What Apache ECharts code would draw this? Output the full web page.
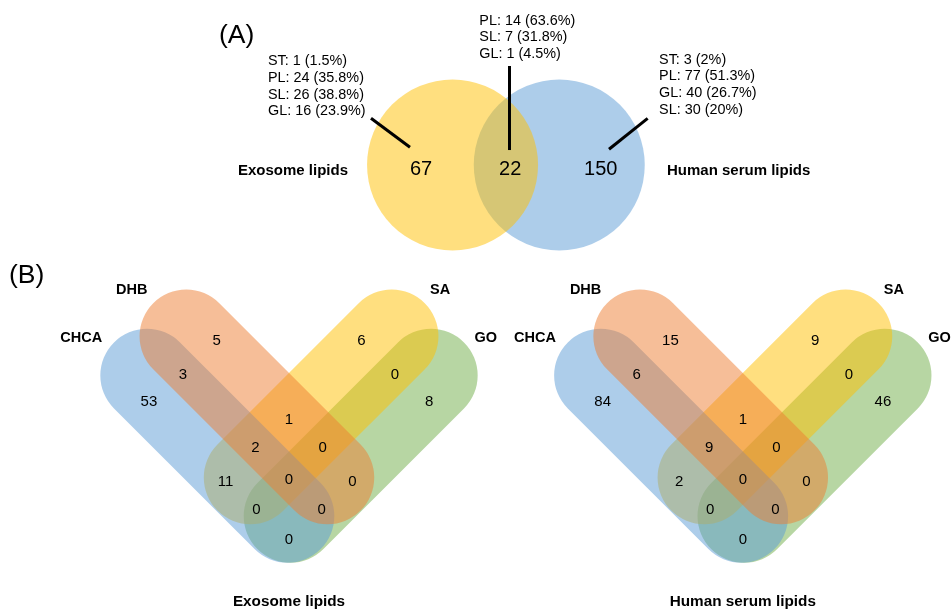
<!DOCTYPE html>
<html>
<head>
<meta charset="utf-8">
<title>Lipid overlap Venn diagrams</title>
<script src="https://cdn.jsdelivr.net/npm/echarts/dist/echarts.min.js"></script>
<style>
  html, body { margin: 0; padding: 0; background: #ffffff; }
  #chart { width: 951px; height: 610px; }
</style>
</head>
<body>
<div id="chart"></div>
<script>
// ---------- Data ----------
// (A) exosome vs. human serum lipids
const setsA = ['Exosome lipids', 'Human serum lipids'];
const countsA = [67, 22, 150];                 // exosome only, shared, serum only
const classesExoOnly = [['ST', 1], ['PL', 24], ['SL', 26], ['GL', 16]];
const classesShared = [['PL', 14], ['SL', 7], ['GL', 1]];
const classesSerumOnly = [['ST', 3], ['PL', 77], ['GL', 40], ['SL', 30]];

// (B) lipids detected with each MALDI matrix
const matrices = ['CHCA', 'DHB', 'SA', 'GO'];  // sets A, B, C, D
const regionKeys = ['A', 'B', 'C', 'D', 'AB', 'BC', 'CD', 'AC', 'BD', 'AD',
                    'ABC', 'BCD', 'ACD', 'ABD', 'ABCD'];
const exosomeCounts = [53, 5, 6, 8, 3, 1, 0, 11, 0, 0, 2, 0, 0, 0, 0];
const serumCounts   = [84, 15, 9, 46, 6, 1, 0, 2, 0, 0, 9, 0, 0, 0, 0];
const panelNamesB = ['Exosome lipids', 'Human serum lipids'];

// ---------- Layout & style ----------
const FONT = '"Liberation Sans", Arial, Helvetica, sans-serif';
const COLORS = { blue: '#5B9BD5', orange: '#ED7D31', yellow: '#FFC000', green: '#70AD47' };
const FILL_OPACITY = 0.5;

// Two-circle diagram, in units of the circle radius
const CIRCLE_OFFSET = 0.624;
// Four-capsule diagram, in units of the capsule half-width
const capsuleAxes = {
  A: [[-3.04, 1.36], [-0.03, -1.65]],
  B: [[-2.2, 2.2], [0.825, -0.825]],
  C: [[2.2, 2.2], [-0.825, -0.825]],
  D: [[3.04, 1.36], [0.03, -1.65]]
};
const capsuleColor = { A: COLORS.blue, B: COLORS.orange, C: COLORS.yellow, D: COLORS.green };
const capsuleOrder = ['D', 'C', 'A', 'B'];     // painting order, bottom to top
const regionAt = {
  A: [-3.0, 0.79], B: [-1.55, 2.1], C: [1.55, 2.1], D: [3.0, 0.79],
  AB: [-2.27, 1.38], BC: [0, 0.4], CD: [2.27, 1.38],
  AC: [-1.36, -0.91], BD: [1.36, -0.91], AD: [0, -2.15],
  ABC: [-0.72, -0.19], BCD: [0.72, -0.19], ACD: [-0.70, -1.51], ABD: [0.70, -1.51],
  ABCD: [0, -0.87]
};

function pct(n, total) {
  const v = Math.round(n / total * 1000) / 10;
  return (v % 1 === 0 ? v.toFixed(0) : v.toFixed(1)) + '%';
}
function classBlock(list, total) {
  return list.map(([c, n]) => c + ': ' + n + ' (' + pct(n, total) + ')').join('\n');
}

// grid placement: origin in px, px per unit, half-extent in units
function gridFor(ox, oy, scale, hx, hy) {
  return { left: ox - hx * scale, top: oy - hy * scale, width: 2 * hx * scale, height: 2 * hy * scale, containLabel: false };
}
const gridDefs = [
  { ox: 505.9, oy: 165, s: 85.5, hx: 3.2, hy: 1.9 },
  { ox: 289, oy: 439, s: 46.7, hx: 4.4, hy: 3.6 },
  { ox: 742.8, oy: 439, s: 46.7, hx: 4.4, hy: 3.6 }
];

function textSeries(gi, items) {
  return {
    type: 'custom', coordinateSystem: 'cartesian2d', xAxisIndex: gi, yAxisIndex: gi,
    silent: true, z: 10, clip: false,
    data: items.map(t => t.at),
    renderItem(params, api) {
      const t = items[params.dataIndex];
      const p = api.coord([api.value(0), api.value(1)]);
      return {
        type: 'text', x: p[0], y: p[1],
        style: {
          text: t.text, fill: '#000', fontFamily: FONT, fontSize: t.size,
          fontWeight: t.bold ? 'bold' : 'normal',
          align: t.align || 'center', verticalAlign: t.valign || 'middle',
          lineHeight: t.lineHeight || t.size * 1.2
        }
      };
    }
  };
}

// ---------- Panel A ----------
const circlesA = [
  { at: [CIRCLE_OFFSET, 0], color: COLORS.blue },    // human serum
  { at: [-CIRCLE_OFFSET, 0], color: COLORS.yellow }  // exosome
];
const leadersA = [
  [-1.578, 0.546, -1.122, 0.207],
  [0.042, 1.158, 0.042, 0.175],
  [1.658, 0.546, 1.206, 0.184]
];
const textsA = [
  { at: [-0.993, -0.05], text: String(countsA[0]), size: 20 },
  { at: [0.05, -0.05], text: String(countsA[1]), size: 20 },
  { at: [1.11, -0.05], text: String(countsA[2]), size: 20 },
  { at: [-1.847, -0.07], text: setsA[0], size: 15, bold: true, align: 'right' },
  { at: [1.884, -0.07], text: setsA[1], size: 15, bold: true, align: 'left' },
  { at: [-2.783, 1.314], text: classBlock(classesExoOnly, countsA[0]), size: 14.4, align: 'left', valign: 'top', lineHeight: 16.8 },
  { at: [-0.311, 1.786], text: classBlock(classesShared, countsA[1]), size: 14.4, align: 'left', valign: 'top', lineHeight: 16.8 },
  { at: [1.791, 1.331], text: classBlock(classesSerumOnly, countsA[2]), size: 14.4, align: 'left', valign: 'top', lineHeight: 16.8 }
];

// ---------- Panel B ----------
function capsuleSeries(gi) {
  const items = capsuleOrder.map(k => ({ k, seg: capsuleAxes[k] }));
  return {
    type: 'custom', coordinateSystem: 'cartesian2d', xAxisIndex: gi, yAxisIndex: gi,
    silent: true, z: 2, clip: false,
    data: items.map(it => [it.seg[0][0], it.seg[0][1], it.seg[1][0], it.seg[1][1]]),
    renderItem(params, api) {
      const k = items[params.dataIndex].k;
      const p1 = api.coord([api.value(0), api.value(1)]);
      const p2 = api.coord([api.value(2), api.value(3)]);
      const w = api.size([2, 0])[0];
      return {
        type: 'polyline', shape: { points: [p1, p2] },
        style: { stroke: capsuleColor[k], lineWidth: w, lineCap: 'round', fill: null, opacity: FILL_OPACITY }
      };
    }
  };
}
function labelsB(counts, name) {
  const t = regionKeys.map((k, i) => ({ at: regionAt[k], text: String(counts[i]), size: 15 }));
  t.push({ at: [-4.0, 2.16], text: matrices[0], size: 14.5, bold: true, align: 'right' });
  t.push({ at: [-3.03, 3.18], text: matrices[1], size: 14.5, bold: true, align: 'right' });
  t.push({ at: [3.02, 3.18], text: matrices[2], size: 14.5, bold: true, align: 'left' });
  t.push({ at: [3.97, 2.16], text: matrices[3], size: 14.5, bold: true, align: 'left' });
  t.push({ at: [0, -3.48], text: name, size: 15.3, bold: true });
  return t;
}

const option = {
  backgroundColor: '#ffffff',
  animation: false,
  grid: gridDefs.map(g => gridFor(g.ox, g.oy, g.s, g.hx, g.hy)),
  xAxis: gridDefs.map((g, i) => ({ type: 'value', gridIndex: i, min: -g.hx, max: g.hx, show: false })),
  yAxis: gridDefs.map((g, i) => ({ type: 'value', gridIndex: i, min: -g.hy, max: g.hy, show: false })),
  graphic: [
    { type: 'text', left: 219, top: 22, style: { text: '(A)', fontSize: 26.5, fontFamily: FONT, fill: '#000' } },
    { type: 'text', left: 9, top: 262, style: { text: '(B)', fontSize: 26.5, fontFamily: FONT, fill: '#000' } }
  ],
  series: [
    {
      type: 'custom', coordinateSystem: 'cartesian2d', xAxisIndex: 0, yAxisIndex: 0,
      silent: true, z: 2, clip: false,
      data: circlesA.map(c => c.at),
      renderItem(params, api) {
        const c = api.coord([api.value(0), api.value(1)]);
        const r = api.size([1, 0])[0];
        return { type: 'circle', shape: { cx: c[0], cy: c[1], r }, style: { fill: circlesA[params.dataIndex].color, opacity: FILL_OPACITY } };
      }
    },
    {
      type: 'custom', coordinateSystem: 'cartesian2d', xAxisIndex: 0, yAxisIndex: 0,
      silent: true, z: 5, clip: false,
      data: leadersA,
      renderItem(params, api) {
        const a = api.coord([api.value(0), api.value(1)]);
        const b = api.coord([api.value(2), api.value(3)]);
        return { type: 'line', shape: { x1: a[0], y1: a[1], x2: b[0], y2: b[1] }, style: { stroke: '#000', lineWidth: 3 } };
      }
    },
    textSeries(0, textsA),
    capsuleSeries(1),
    textSeries(1, labelsB(exosomeCounts, panelNamesB[0])),
    capsuleSeries(2),
    textSeries(2, labelsB(serumCounts, panelNamesB[1]))
  ]
};

const chart = echarts.init(document.getElementById('chart'), null, { renderer: 'canvas' });
chart.setOption(option);
</script>
</body>
</html>
